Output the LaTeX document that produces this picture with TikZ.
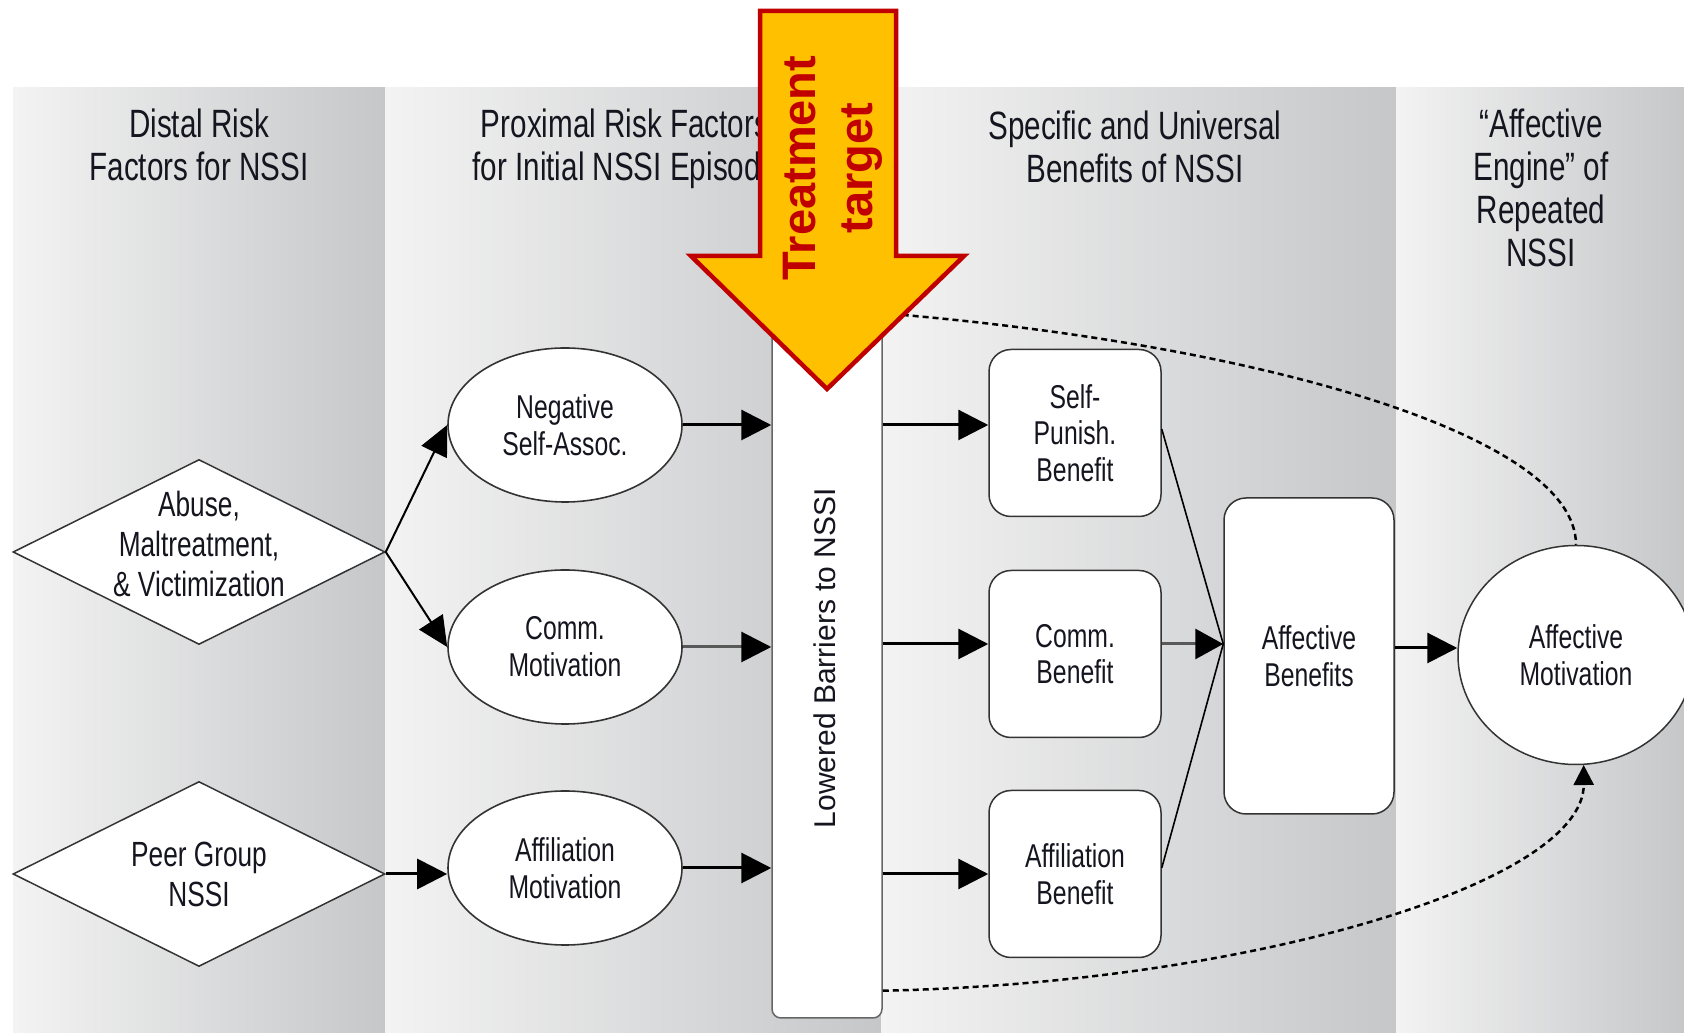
\documentclass[tikz,border=0pt]{standalone}
\usepackage{fontspec}
\setmainfont{Liberation Sans}
\newfontfamily\cnd[FakeStretch=0.75]{Liberation Sans}
\usetikzlibrary{arrows.meta,shapes.geometric,calc}
\definecolor{bandL}{HTML}{F3F3F3}
\definecolor{bandR}{HTML}{C6C7C9}
\definecolor{tgtfill}{HTML}{FFC000}
\definecolor{tgtred}{HTML}{C00000}
\definecolor{ink}{HTML}{15151F}
\definecolor{edge}{HTML}{333333}
\begin{document}
\begin{tikzpicture}[x=1pt,y=1pt,
  band/.style={left color=bandL, right color=bandR},
  hdr/.style={font=\cnd\fontsize{39.5}{43}\selectfont, align=center, text=ink},
  dia/.style={diamond, draw=edge, line width=1.5pt, fill=white, minimum width=372pt, minimum height=185pt, inner sep=0pt},
  dtxt/.style={font=\cnd\fontsize{35}{40}\selectfont, align=center, text=ink, inner sep=0pt},
  ell/.style={ellipse, draw=edge, line width=1.6pt, fill=white, minimum width=234pt, minimum height=154pt, inner sep=0pt, font=\cnd\fontsize{33}{37}\selectfont, align=center, text=ink},
  rbox/.style={draw=edge, line width=1.5pt, fill=white, rounded corners=22pt, minimum width=172pt, minimum height=167pt, inner sep=0pt, font=\cnd\fontsize{33}{36.5}\selectfont, align=center, text=ink},
  arr/.style={-{Triangle[length=30pt,width=30pt]}, line width=3pt},
  thinarr/.style={-{Triangle[length=30pt,width=28pt]}, line width=2pt},
  dsh/.style={line width=2.5pt, dash pattern=on 6pt off 4pt},
  tgt/.style={fill=tgtfill, draw=tgtred, line width=4.5pt, line join=miter}
]
\useasboundingbox (0,0) rectangle (1684,1033);
\clip (0,0) rectangle (1684,1033);

% bands
\shade[band] (13,0) rectangle (385,945);
\shade[band] (385,0) rectangle (881,945);
\shade[band] (881,0) rectangle (1396,945);
\shade[band] (1396,0) rectangle (1684,945);

% headers
\node[hdr] (h1) at (199,888) {Distal Risk\\Factors for NSSI};
\node[hdr] (h2) at (625,884) {Proximal Risk Factors\\for Initial NSSI Episode};
\node[hdr] (h3) at (1135,886) {Specific and Universal\\Benefits of NSSI};
\node[hdr] (h4) at (1541,845) {“Affective\\Engine” of\\Repeated\\NSSI};

% diamonds
\node[dia] (d1) at (199,481) {};
\node[dtxt] (d1t) at ([yshift=8pt]d1.center) {Abuse,\\Maltreatment,\\\& Victimization};
\node[dia] (d2) at (199,159) {};
\node[dtxt] (d2t) at (d2.center) {Peer Group\\NSSI};

% ellipses
\node[ell] (neg) at (565,608) {Negative\\Self-Assoc.};
\node[ell] (comm) at (565,386) {Comm.\\Motivation};
\node[ell] (aff) at (565,165) {Affiliation\\Motivation};

% bar
\node[draw=gray!80!black, line width=1.5pt, fill=white, rounded corners=9pt, minimum width=110pt, minimum height=718pt, inner sep=0pt] (bar) at (827,374) {};
\node[rotate=90, font=\fontsize{30}{36}\selectfont, text=ink] (bart) at (825,375) {Lowered Barriers to NSSI};

% benefit boxes
\node[rbox] (sp) at (1075,600) {Self-\\Punish.\\Benefit};
\node[rbox] (cb) at (1075,379) {Comm.\\Benefit};
\node[rbox] (afb) at (1075,159) {Affiliation\\Benefit};
\node[rbox, minimum width=170pt, minimum height=316pt] (ab) at (1309,377) {Affective\\Benefits};
\node[ellipse, draw=edge, line width=1.5pt, fill=white, minimum width=236pt, minimum height=219pt, inner sep=0pt, font=\cnd\fontsize{33}{36.5}\selectfont, align=center, text=ink] (am) at (1576,378) {Affective\\Motivation};

% arrows
\draw[thinarr] (d1.east) -- (neg.west);
\draw[thinarr] (d1.east) -- (comm.west);
\draw[arr] (d2.east) -- (d2.east -| aff.west);
\draw[arr] (neg.east) -- (neg.east -| bar.west);
\draw[-{Triangle[length=30pt,width=30pt,color=black]}, line width=3pt, draw=gray!70!black] (comm.east) -- (comm.east -| bar.west);
\draw[arr] (aff.east) -- (aff.east -| bar.west);
\draw[arr] ($(bar.east |- sp.west)+(0,8)$) -- ([yshift=8pt]sp.west);
\draw[arr] ($(bar.east |- cb.west)+(0,10)$) -- ([yshift=10pt]cb.west);
\draw[arr] (bar.east |- afb.west) -- (afb.west);
\coordinate (conv) at ([yshift=12pt]ab.west);
\draw[line width=1.6pt] ([yshift=4pt]sp.east) -- (conv);
\draw[line width=1.6pt] ([yshift=6pt]afb.east) -- (conv);
\draw[-{Triangle[length=28pt,width=30pt,color=black]}, line width=3pt, draw=gray!70!black] ([yshift=10pt]cb.east) -- (conv);
\draw[arr] ([yshift=8pt]ab.east) -- ([yshift=8pt]ab.east -| am.west);

% dashed feedback curves
\draw[dsh] ([yshift=-14pt]bar.north east) .. controls (1250,690) and (1576,600) .. (am.north);
\draw[dsh, -{Triangle[length=20pt,width=20pt]}] ([yshift=28pt]bar.south east) .. controls (1250,50) and (1584,150) .. (am.-86);

% treatment target arrow
\draw[tgt] (760,1022) -- (896,1022) -- (896,777) -- (964,777) -- (827,644) -- (691,777) -- (760,777) -- cycle;
\node[rotate=90, text=tgtred, font=\bfseries\fontsize{47}{57}\selectfont, align=center] (tt) at (833,865) {Treatment\\target};
\end{tikzpicture}
\end{document}
